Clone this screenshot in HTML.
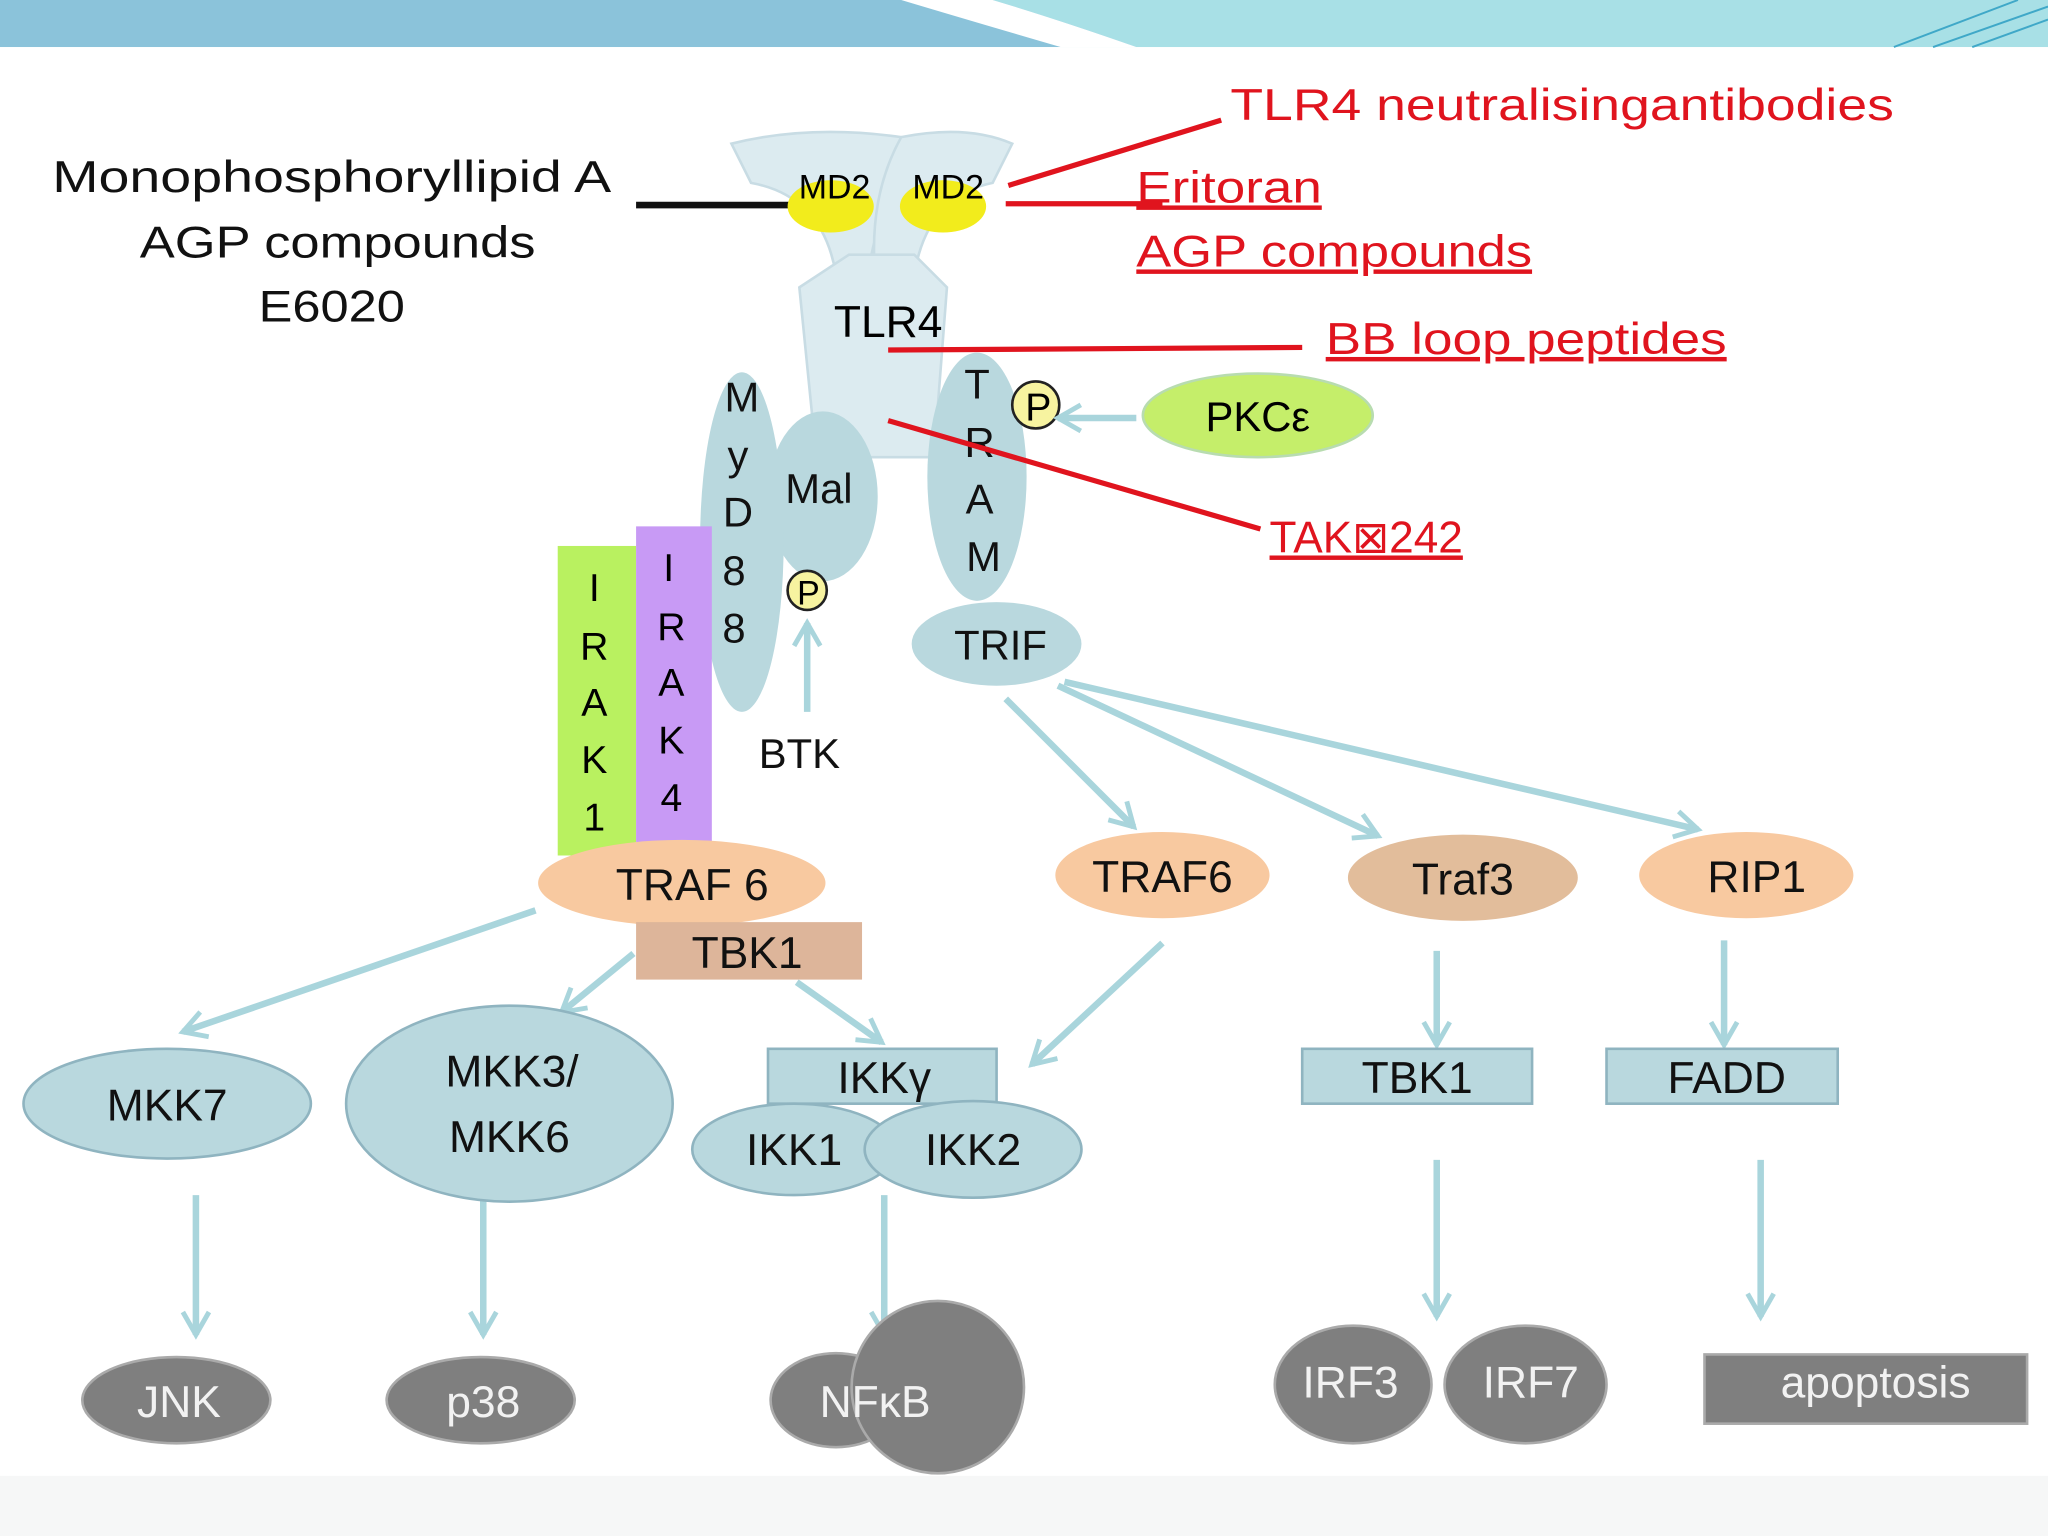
<!DOCTYPE html>
<html><head><meta charset="utf-8"><style>html,body{margin:0;padding:0;background:#fff}svg{display:block}</style></head>
<body>
<svg width="2048" height="1536" viewBox="0 0 1568 1176" xmlns="http://www.w3.org/2000/svg" font-family="Liberation Sans, DejaVu Sans, sans-serif">
<defs>
<marker id="a" viewBox="0 0 20 20" refX="16" refY="10" markerWidth="5" markerHeight="5" orient="auto" markerUnits="strokeWidth"><path d="M2,2 L16,10 L2,18" fill="none" stroke="#a9d5dc" stroke-width="3"/></marker>
</defs>
<rect width="1568" height="1176" fill="#fff"/>
<rect x="0" y="0" width="1568" height="36" fill="#8bc3da"/>
<path d="M760,0 L1568,0 L1568,36 L870,36 Q810,15 760,0Z" fill="#a8e0e6"/>
<path d="M690,0 L760,0 Q810,15 870,36 L812,36 Q740,15 690,0Z" fill="#fff"/>
<path d="M1450,36 L1545,0 M1480,36 L1568,5 M1510,36 L1568,15" stroke="#3fa8c8" stroke-width="1.5" fill="none"/>
<rect x="0" y="1130" width="1568" height="46" fill="#f6f7f7"/>

<g font-size="34" fill="#111">
<text x="40" y="147" textLength="428" lengthAdjust="spacingAndGlyphs">Monophosphoryllipid A</text>
<text x="107" y="197" textLength="303" lengthAdjust="spacingAndGlyphs">AGP compounds</text>
<text x="198" y="246" textLength="112" lengthAdjust="spacingAndGlyphs">E6020</text>
</g>
<line x1="487" y1="157" x2="605" y2="157" stroke="#111" stroke-width="5"/>

<!-- TLR4 -->
<g fill="#dcebf0" stroke="#c8dce4" stroke-width="2">
<path d="M560,110 Q620,95 690,105 L705,120 Q670,160 665,210 L640,210 Q630,150 575,140Z"/>
<path d="M690,105 Q740,95 775,110 L760,140 Q710,150 700,210 L670,210 Q665,150 690,105Z"/>
<path d="M612,220 L650,195 L700,195 L725,220 L715,350 L625,350 Z"/>
</g>
<ellipse cx="636" cy="158" rx="33" ry="20" fill="#f2ec1c"/>
<ellipse cx="722" cy="158" rx="33" ry="20" fill="#f2ec1c"/>
<text x="639" y="152" font-size="26" text-anchor="middle">MD2</text>
<text x="726" y="152" font-size="26" text-anchor="middle">MD2</text>
<text x="680" y="258" font-size="34" text-anchor="middle">TLR4</text>

<g fill="#b9d8de">
<ellipse cx="630" cy="380" rx="42" ry="65"/>
<ellipse cx="568" cy="415" rx="32" ry="130"/>
<ellipse cx="748" cy="365" rx="38" ry="95"/>
<ellipse cx="763" cy="493" rx="65" ry="32"/>
</g>
<g font-size="32" text-anchor="middle" fill="#111">
<text x="568" y="315">M</text><text x="565" y="360">y</text><text x="565" y="403">D</text><text x="562" y="448">8</text><text x="562" y="492">8</text>
<text x="627" y="385">Mal</text>
<text x="748" y="305">T</text><text x="750" y="350">R</text><text x="750" y="393">A</text><text x="753" y="437">M</text>
<text x="766" y="505">TRIF</text>
<text x="612" y="588">BTK</text>
</g>
<circle cx="793" cy="310" r="18" fill="#f7f3a0" stroke="#222" stroke-width="2"/>
<text x="795" y="322" font-size="30" text-anchor="middle">P</text>
<circle cx="618" cy="452" r="15" fill="#f7f3a0" stroke="#222" stroke-width="2"/>
<text x="619" y="463" font-size="26" text-anchor="middle">P</text>
<ellipse cx="963" cy="318" rx="88" ry="32" fill="#c5ee6a" stroke="#b8dcb0" stroke-width="2"/>
<text x="963" y="330" font-size="32" text-anchor="middle">PKCε</text>

<rect x="427" y="418" width="60" height="237" fill="#b9f160"/>
<rect x="487" y="403" width="58" height="242" fill="#c89af5"/>
<g font-size="30" text-anchor="middle">
<text x="455" y="460">I</text><text x="455" y="505">R</text><text x="455" y="548">A</text><text x="455" y="592">K</text><text x="455" y="636">1</text>
<text x="512" y="445">I</text><text x="514" y="490">R</text><text x="514" y="533">A</text><text x="514" y="577">K</text><text x="514" y="621">4</text>
</g>

<!-- red -->
<g stroke="#e0141e" stroke-width="4">
<line x1="772" y1="142" x2="935" y2="92"/>
<line x1="770" y1="156" x2="890" y2="156"/>
<line x1="680" y1="268" x2="997" y2="266"/>
<line x1="680" y1="322" x2="965" y2="405"/>
</g>
<g fill="#e0141e" font-size="34" lengthAdjust="spacingAndGlyphs">
<text x="942" y="92" textLength="508" lengthAdjust="spacingAndGlyphs">TLR4 neutralisingantibodies</text>
<text x="870" y="155" text-decoration="underline" textLength="142" lengthAdjust="spacingAndGlyphs">Eritoran</text>
<text x="870" y="204" text-decoration="underline" textLength="303" lengthAdjust="spacingAndGlyphs">AGP compounds</text>
<text x="1015" y="271" text-decoration="underline" textLength="307" lengthAdjust="spacingAndGlyphs">BB loop peptides</text>
<text x="972" y="423" text-decoration="underline" textLength="148" lengthAdjust="spacingAndGlyphs">TAK⊠242</text>
</g>

<!-- arrows -->
<g stroke="#a9d5dc" stroke-width="5" fill="none" marker-end="url(#a)">
<line x1="618" y1="545" x2="618" y2="477"/>
<line x1="870" y1="320" x2="810" y2="320"/>
<line x1="770" y1="535" x2="868" y2="633"/>
<line x1="810" y1="525" x2="1055" y2="640"/>
<line x1="815" y1="522" x2="1300" y2="635"/>
<line x1="410" y1="697" x2="140" y2="790"/>
<line x1="485" y1="730" x2="430" y2="775"/>
<line x1="610" y1="752" x2="675" y2="798"/>
<line x1="890" y1="722" x2="790" y2="815"/>
<line x1="1100" y1="728" x2="1100" y2="800"/>
<line x1="1320" y1="720" x2="1320" y2="800"/>
<line x1="150" y1="915" x2="150" y2="1022"/>
<line x1="370" y1="915" x2="370" y2="1022"/>
<line x1="677" y1="915" x2="677" y2="1022"/>
<line x1="1100" y1="888" x2="1100" y2="1008"/>
<line x1="1348" y1="888" x2="1348" y2="1008"/>
</g>

<g fill="#f8c9a0">
<ellipse cx="522" cy="676" rx="110" ry="33"/>
<ellipse cx="890" cy="670" rx="82" ry="33"/>
<ellipse cx="1337" cy="670" rx="82" ry="33"/>
</g>
<ellipse cx="1120" cy="672" rx="88" ry="33" fill="#e2bd9b"/>
<rect x="487" y="706" width="173" height="44" fill="#ddb59a"/>
<g fill="#b9d8de" stroke="#8fb4c0" stroke-width="2">
<ellipse cx="128" cy="845" rx="110" ry="42"/>
<ellipse cx="390" cy="845" rx="125" ry="75"/>
<rect x="588" y="803" width="175" height="42"/>
<ellipse cx="608" cy="880" rx="78" ry="35"/>
<ellipse cx="745" cy="880" rx="83" ry="37"/>
<rect x="997" y="803" width="176" height="42"/>
<rect x="1230" y="803" width="177" height="42"/>
</g>
<g font-size="34" text-anchor="middle" fill="#111">
<text x="530" y="689">TRAF 6</text>
<text x="572" y="741">TBK1</text>
<text x="890" y="683">TRAF6</text>
<text x="1120" y="685">Traf3</text>
<text x="1345" y="683">RIP1</text>
<text x="128" y="858">MKK7</text>
<text x="392" y="832">MKK3/</text>
<text x="390" y="882">MKK6</text>
<text x="677" y="837">IKKγ</text>
<text x="608" y="892">IKK1</text>
<text x="745" y="892">IKK2</text>
<text x="1085" y="837">TBK1</text>
<text x="1322" y="837">FADD</text>
</g>

<g fill="#7f7f7f" stroke="#aaa" stroke-width="2">
<ellipse cx="135" cy="1072" rx="72" ry="33"/>
<ellipse cx="368" cy="1072" rx="72" ry="33"/>
<ellipse cx="640" cy="1072" rx="50" ry="36"/>
<circle cx="718" cy="1062" r="66"/>
<ellipse cx="1036" cy="1060" rx="60" ry="45"/>
<ellipse cx="1168" cy="1060" rx="62" ry="45"/>
<rect x="1305" y="1037" width="247" height="53"/>
</g>
<g font-size="34" text-anchor="middle" fill="#f2f2f2">
<text x="137" y="1085">JNK</text>
<text x="370" y="1085">p38</text>
<text x="670" y="1085">NFκB</text>
<text x="1034" y="1070">IRF3</text>
<text x="1172" y="1070">IRF7</text>
<text x="1436" y="1070">apoptosis</text>
</g>
</svg>
</body></html>
